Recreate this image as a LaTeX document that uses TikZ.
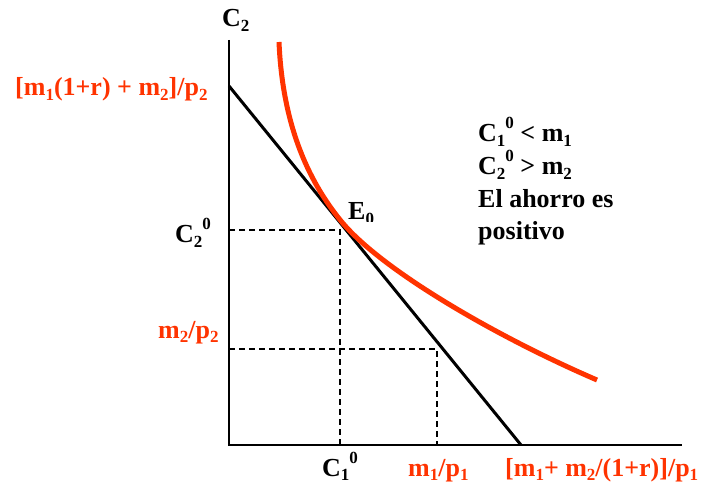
\documentclass[tikz,border=0pt]{standalone}
\usepackage{fontspec}
\setmainfont{Liberation Serif}
\definecolor{curvered}{HTML}{FF3300}
\newcommand\lo[1]{\raisebox{-0.18em}{\fontsize{17}{17}\selectfont #1}}
\newcommand\hi[1]{\raisebox{0.5em}{\fontsize{17}{17}\selectfont #1}}
\begin{document}
\begin{tikzpicture}[x=1pt,y=-1pt,
  lbl/.style={anchor=base west,inner sep=0pt,font=\fontsize{26}{33}\selectfont\bfseries},
  redlbl/.style={lbl,text=curvered},
  axis/.style={line width=2pt},
  budget/.style={line width=3pt},
  indiff/.style={line width=5pt,draw=curvered},
  guide/.style={line width=1.5pt,dash pattern=on 6pt off 4pt}]
\useasboundingbox (0,0) rectangle (704,486);
% coordinates
\coordinate (O) at (229,445);
\coordinate (Ytop) at (229,40);
\coordinate (Xend) at (682,445);
\coordinate (A) at (229,86);
\coordinate (B) at (521,445);
\coordinate (E) at (340,230);
\coordinate (EY) at (229,230);
\coordinate (EX) at (340,445);
\coordinate (F) at (437,349);
\coordinate (FY) at (229,349);
\coordinate (FX) at (437,445);
\coordinate (U0) at (279,42);
\coordinate (UE) at (341,221);
\coordinate (U1) at (597,380);
% dashed guides
\draw[guide] (EY) -- (E) -- (EX);
\draw[guide] (FY) -- (F) -- (FX);
% axes
\draw[axis] (Ytop) -- (O) -- (Xend);
% budget line
\draw[budget] (A) -- (B);
% indifference curve
\draw[indiff] (U0) .. controls (282,112) and (301,172) .. (UE)
  .. controls (381,270) and (497,337) .. (U1);
% labels
\node[lbl] (c2) at (222,27) {C\lo{2}};
\node[redlbl] (ymax) at (15,96) {[m\lo{1}(1+r) + m\lo{2}]/p\lo{2}};
\node[lbl] (c20) at (175,243) {C\lo{2}\hi{0}};
\node[redlbl] (m2p2) at (158,338) {m\lo{2}/p\lo{2}};
\begin{scope}
\clip (340,190) rectangle (400,222);
\node[lbl] (e0) at (348,220) {E\lo{0}};
\end{scope}
\node[lbl] (c10) at (322,476) {C\lo{1}\hi{0}};
\node[redlbl] (m1p1) at (408,476) {m\lo{1}/p\lo{1}};
\node[redlbl] (xmax) at (505,476) {[m\lo{1}+ m\lo{2}/(1+r)]/p\lo{1}};
\node[lbl] (t1) at (478,142) {C\lo{1}\hi{0} < m\lo{1}};
\node[lbl] (t2) at (478,175) {C\lo{2}\hi{0} > m\lo{2}};
\node[lbl] (t3) at (478,208) {El ahorro es};
\node[lbl] (t4) at (478,240) {positivo};
\end{tikzpicture}
\end{document}
